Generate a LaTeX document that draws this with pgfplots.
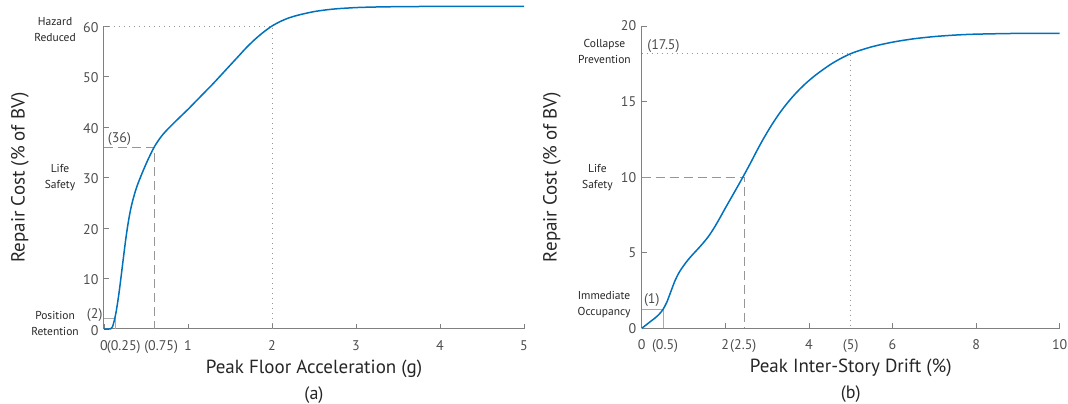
\documentclass[border=0pt]{standalone}
\usepackage{fontspec}
\setmainfont{PT Sans}
\usepackage{pgfplots}
\pgfplotsset{compat=1.18}
\definecolor{mblue}{RGB}{0,114,189}
\definecolor{axgray}{RGB}{128,128,128}
\definecolor{tkgray}{RGB}{77,77,77}
\definecolor{txt}{RGB}{38,38,38}
\definecolor{refgray}{RGB}{150,150,150}

\pgfplotsset{
  common/.style={
    scale only axis, clip=false,
    axis x line*=bottom, axis y line*=left,
    axis line style={axgray, line width=1pt},
    tick align=inside, major tick length=5pt,
    tick style={axgray, line width=0.8pt},
    /pgf/number format/assume math mode=true,
    ticklabel style={font=\fontsize{14}{16}\selectfont, text=tkgray},
    xticklabel style={yshift=-8pt},
    yticklabel style={xshift=-2pt},
    extra tick style={major tick length=0pt},
    every axis x label/.style={at={(axis description cs:0.5,-0.132)}, anchor=center,
      font=\fontsize{19}{22}\selectfont, text=txt},
  },
}
\tikzset{
  ann/.style={align=center, font=\fontsize{11.5}{16}\selectfont, text=txt},
  pn/.style={font=\fontsize{14}{16}\selectfont, text=tkgray},
}

\pgfplotstableread{
x y
0 0
0.06 0
0.08 0.05
0.10 0.4
0.12 1.5
0.14 3.0
0.16 5.0
0.18 7.3
0.20 9.9
0.22 12.6
0.24 15.3
0.26 17.9
0.28 20.2
0.30 22.2
0.32 23.9
0.34 25.3
0.37 27.1
0.40 28.6
0.44 30.3
0.48 31.9
0.52 33.4
0.56 34.8
0.60 36.1
0.65 37.4
0.70 38.5
0.76 39.6
0.82 40.6
0.90 41.9
1.00 43.5
1.10 45.2
1.20 46.9
1.30 48.6
1.40 50.4
1.50 52.2
1.60 54.0
1.70 55.8
1.80 57.4
1.90 58.8
2.00 60.0
2.10 60.9
2.20 61.6
2.30 62.1
2.40 62.5
2.50 62.85
2.60 63.1
2.70 63.3
2.80 63.45
2.90 63.55
3.00 63.65
3.20 63.75
3.50 63.83
4.00 63.88
5.00 63.9
}\tableA

\pgfplotstableread{
x y
0 0
0.1 0.21
0.2 0.43
0.3 0.64
0.4 0.88
0.5 1.21
0.6 1.72
0.7 2.45
0.8 3.17
0.9 3.72
1.0 4.13
1.1 4.50
1.2 4.82
1.3 5.12
1.4 5.42
1.5 5.74
1.6 6.09
1.7 6.50
1.8 6.96
1.9 7.45
2.0 7.95
2.2 8.92
2.4 9.90
2.6 10.92
2.75 11.72
2.9 12.48
3.1 13.41
3.3 14.24
3.5 14.96
3.7 15.59
3.9 16.14
4.1 16.62
4.3 17.04
4.6 17.6
5.0 18.17
5.5 18.62
6.0 18.93
6.5 19.15
7.0 19.3
7.5 19.4
8.0 19.46
9.0 19.51
10 19.52
}\tableB

\begin{document}
\begin{tikzpicture}[x=1pt,y=1pt]
\useasboundingbox (0,0) rectangle (1068,404);

% ---------- (a) ----------
\begin{axis}[common,
  at={(104pt,75pt)}, anchor=south west,
  width=420pt, height=303pt,
  xmin=0, xmax=5, ymin=0, ymax=60,
  xtick={0,1,2,3,4,5},
  ytick={0,10,20,30,40,50,60},
  yticklabel style={yshift=-1.5pt},
  extra x ticks={0.235,0.68},
  extra x tick labels={(0.25),(0.75)},
  extra y ticks={2},
  extra y tick labels={(2)},
  extra y tick style={yticklabel style={yshift=5pt, xshift=4pt}},
  xlabel={Peak Floor Acceleration (g)},
  ylabel={Repair Cost (\% of BV)},
  every axis y label/.style={at={(axis description cs:-0.2,0.5)}, rotate=90, anchor=center,
    font=\fontsize{19}{22}\selectfont, text=txt},
]
\addplot[refgray!80, line width=0.8pt] coordinates {(0,2) (0.14,2) (0.14,0)};
\addplot[refgray, line width=0.9pt, dash pattern=on 9pt off 5pt] coordinates {(0,36) (0.595,36) (0.595,0)};
\addplot[refgray, line width=0.9pt, dash pattern=on 1.2pt off 3.8pt] coordinates {(0,60) (2,60) (2,0)};
\addplot[mblue, line width=1.5pt, smooth, tension=0.5] table[x=x,y=y] {\tableA};
\node[pn] at (axis cs:0.184,37.6) {(36)};
\node[ann] at (axis cs:-0.583,59.2) {Hazard\\Reduced};
\node[ann] at (axis cs:-0.524,29.9) {Life\\Safety};
\node[ann] at (axis cs:-0.583,1.0) {Position\\Retention};
\node[font=\fontsize{18}{20}\selectfont, text=txt] at (axis description cs:0.5,-0.218) {(a)};
\end{axis}

% ---------- (b) ----------
\begin{axis}[common,
  at={(641.7pt,75.7pt)}, anchor=south west,
  width=418pt, height=302.3pt,
  xmin=0, xmax=10, ymin=0, ymax=20,
  xtick={0,2,4,6,8,10},
  ytick={0,5,10,15,20},
  extra x ticks={0.56,2.43,5},
  extra x tick labels={(0.5),(2.5),(5)},
  xlabel={Peak Inter-Story Drift (\%)},
  ylabel={Repair Cost (\% of BV)},
  every axis y label/.style={at={(axis description cs:-0.215,0.5)}, rotate=90, anchor=center,
    font=\fontsize{19}{22}\selectfont, text=txt},
]
\addplot[refgray!80, line width=0.8pt] coordinates {(0,1.25) (0.51,1.25) (0.51,0)};
\addplot[refgray, line width=0.9pt, dash pattern=on 9pt off 5pt] coordinates {(0,10) (2.45,10) (2.45,0)};
\addplot[refgray, line width=0.9pt, dash pattern=on 1.2pt off 3.8pt] coordinates {(0,18.17) (5,18.17) (5,0)};
\addplot[mblue, line width=1.5pt, smooth, tension=0.5] table[x=x,y=y] {\tableB};
\node[pn] at (axis cs:0.52,18.7) {(17.5)};
\node[pn] at (axis cs:0.24,1.9) {(1)};
\node[ann] at (axis cs:-0.89,18.34) {Collapse\\Prevention};
\node[ann] at (axis cs:-1.06,9.94) {Life\\Safety};
\node[ann] at (axis cs:-0.90,1.54) {Immediate\\Occupancy};
\node[font=\fontsize{18}{20}\selectfont, text=txt] at (axis description cs:0.5,-0.218) {(b)};
\end{axis}
\end{tikzpicture}
\end{document}
